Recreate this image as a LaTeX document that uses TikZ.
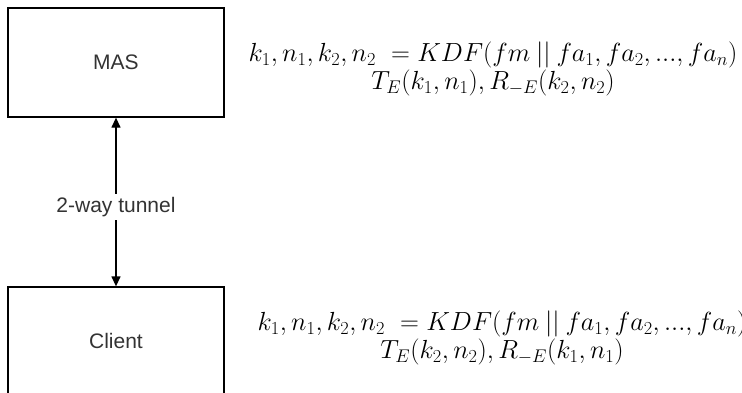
\documentclass[tikz,border=0pt]{standalone}
\usepackage{fix-cm}
\usepackage{fontspec}
\newfontfamily\arialfont{Liberation Sans}
\usetikzlibrary{arrows.meta}
\tikzset{
  box/.style={draw, line width=1.3pt, minimum width=216pt, minimum height=109pt, inner sep=0pt, font=\arialfont\fontsize{21}{26}\selectfont, text=black!80},
  formula/.style={align=center, inner sep=0pt, font=\fontsize{26.2}{22.5}\selectfont},
  link/.style={line width=1.3pt, {Triangle[length=10pt,width=9pt]}-{Triangle[length=10pt,width=9pt]}},
  lbl/.style={fill=white, inner sep=3pt, font=\arialfont\fontsize{21}{26}\selectfont, text=black!80}
}
\begin{document}
\begin{tikzpicture}[x=1pt,y=-1pt]
\useasboundingbox (0,0) rectangle (742,392);
\node[box] (mas) at (116,62.5) {MAS};
\node[box] (client) at (116,341.5) {\raisebox{1pt}{Client}};
\draw[link] (mas.south) -- node[lbl, pos=0.53] (tun) {2-way tunnel} (client.north);
\node[formula] (f1) at (493,69) {$k_1, n_1, k_2, n_2\ = KDF(fm\mathbin{||} fa_1, fa_2, ..., fa_n)$\\$T_E(k_1,n_1), R_{-E}(k_2,n_2)$};
\node[formula] (f2) at (502,338) {$k_1, n_1, k_2, n_2\ = KDF(fm\mathbin{||} fa_1, fa_2, ..., fa_n)$\\$T_E(k_2,n_2), R_{-E}(k_1,n_1)$};
\end{tikzpicture}
\end{document}
